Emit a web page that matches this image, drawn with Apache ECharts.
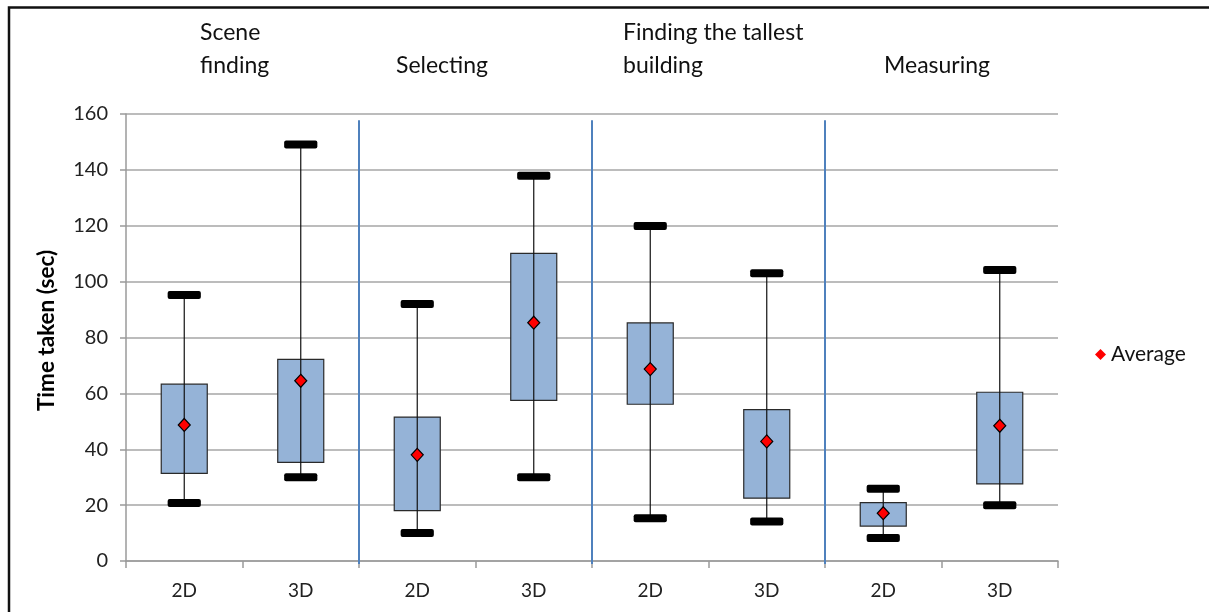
<!DOCTYPE html>
<html>
<head>
<meta charset="utf-8">
<script src="https://cdn.jsdelivr.net/npm/echarts@6/dist/echarts.min.js"></script>
<style>
  html, body { margin: 0; padding: 0; background: #fff; }
  #chart { width: 1209px; height: 612px; }
</style>
</head>
<body>
<div id="chart"></div>
<script>
// Task completion times per condition (seconds)
const categories = ['2D', '3D', '2D', '3D', '2D', '3D', '2D', '3D'];
const taskNames = [['Scene', 'finding'], ['Selecting'], ['Finding the tallest', 'building'], ['Measuring']];
const minVals = [20.8, 30.0, 10.0, 30.0, 15.3, 14.1, 8.2, 20.0];
const q1Vals  = [31.4, 35.3, 18.0, 57.5, 56.1, 22.5, 12.5, 27.6];
const q3Vals  = [63.3, 72.2, 51.5, 110.1, 85.2, 54.2, 20.9, 60.4];
const maxVals = [95.2, 149.1, 92.0, 137.9, 119.9, 103.0, 25.9, 104.2];
const avgVals = [48.7, 64.5, 38.0, 85.3, 68.7, 42.8, 17.1, 48.4];
const yTicks  = [0, 20, 40, 60, 80, 100, 120, 140, 160];
const separatorAfter = [1, 3, 5];   // category index after which a task group ends

const FONT = 'Lato';
const boxData = categories.map((c, i) => [i, minVals[i], q1Vals[i], q3Vals[i], maxVals[i]]);
const avgData = categories.map((c, i) => [i, avgVals[i]]);

// Left edges of the task titles above the plot
const titleLeft = [200, 396, 623, 884];

const chart = echarts.init(document.getElementById('chart'));

const titleGraphics = taskNames.map((lines, i) => ({
  type: 'text',
  left: titleLeft[i],
  bottom: 612 - 82,
  style: {
    text: lines.join('\n'),
    font: '23px ' + FONT,
    fill: '#111',
    lineHeight: 33,
    textAlign: 'left'
  }
}));

chart.setOption({
  animation: false,
  grid: { left: 126, right: 151, top: 114, bottom: 51, containLabel: false },
  legend: {
    data: [{ name: 'Average', icon: 'diamond', itemStyle: { color: '#FF0000', borderWidth: 0 } }],
    left: 1090, top: 339,
    itemWidth: 11, itemHeight: 11, itemGap: 6,
    textStyle: { fontFamily: FONT, fontSize: 21, color: '#111' }
  },
  xAxis: {
    type: 'category',
    data: categories,
    boundaryGap: true,
    axisLine: { lineStyle: { color: '#9a9a9a', width: 1.5 } },
    axisTick: { show: true, length: 7, lineStyle: { color: '#9a9a9a', width: 1.5 } },
    axisLabel: { fontFamily: FONT, fontSize: 19, color: '#222', margin: 20 },
    splitLine: { show: false }
  },
  yAxis: {
    type: 'value',
    min: 0, max: 160, interval: 20,
    name: 'Time taken (sec)',
    nameLocation: 'middle',
    nameGap: 68,
    nameRotate: 90,
    nameTextStyle: { fontFamily: FONT, fontSize: 22.5, fontWeight: 'bold', color: '#000', padding: [0, 0, 0, 14] },
    axisLine: { show: true, lineStyle: { color: '#9a9a9a', width: 1.5 } },
    axisTick: { show: true, length: 6, lineStyle: { color: '#9a9a9a', width: 1.5 } },
    axisLabel: {
      fontFamily: FONT, fontSize: 20, color: '#222', margin: 18,
      formatter: v => (yTicks.indexOf(v) >= 0 ? String(v) : '')
    },
    splitLine: { show: true, lineStyle: { color: '#a6a6a6', width: 1.5 } }
  },
  graphic: [
    // open frame line along the top and left edges
    { type: 'polyline', shape: { points: [[9, 612], [9, 7.5], [1209, 7.5]] },
      style: { stroke: '#111', lineWidth: 2.5, fill: null }, silent: true },
    ...titleGraphics
  ],
  series: [
    {
      // vertical separators between task groups
      type: 'custom',
      z: 3,
      silent: true,
      data: separatorAfter.map(i => [i]),
      renderItem: (params, api) => {
        const half = api.size([1, 0])[0] / 2;
        const top = api.coord([api.value(0), 157.8]);
        const bot = api.coord([api.value(0), 0]);
        const x = top[0] + half;
        return {
          type: 'line',
          shape: { x1: x, y1: top[1], x2: x, y2: bot[1] + 3 },
          style: { stroke: '#4F81BD', lineWidth: 2 }
        };
      }
    },
    {
      // box with whisker and caps
      type: 'custom',
      z: 4,
      data: boxData,
      renderItem: (params, api) => {
        const i = api.value(0);
        const band = api.size([1, 0])[0];
        const pMin = api.coord([i, api.value(1)]);
        const pQ1 = api.coord([i, api.value(2)]);
        const pQ3 = api.coord([i, api.value(3)]);
        const pMax = api.coord([i, api.value(4)]);
        const cx = pMin[0];
        const bw = band * 0.395;
        const cw = band * 0.285;
        const ch = 8;
        return {
          type: 'group',
          children: [
            { type: 'rect', shape: { x: cx - bw / 2, y: pQ3[1], width: bw, height: pQ1[1] - pQ3[1] },
              style: { fill: '#95B3D7', stroke: '#2a2a2a', lineWidth: 1.2 } },
            { type: 'line', shape: { x1: cx, y1: pMax[1], x2: cx, y2: pMin[1] },
              style: { stroke: '#111', lineWidth: 1.2 } },
            { type: 'rect', shape: { x: cx - cw / 2, y: pMax[1] - ch / 2, width: cw, height: ch, r: 2 },
              style: { fill: '#000' } },
            { type: 'rect', shape: { x: cx - cw / 2, y: pMin[1] - ch / 2, width: cw, height: ch, r: 2 },
              style: { fill: '#000' } }
          ]
        };
      }
    },
    {
      name: 'Average',
      type: 'scatter',
      z: 6,
      data: avgData,
      symbol: 'diamond',
      symbolSize: [12, 13],
      itemStyle: { color: '#FF0000', borderColor: '#000', borderWidth: 1.2, opacity: 1 }
    }
  ]
});
</script>
</body>
</html>
